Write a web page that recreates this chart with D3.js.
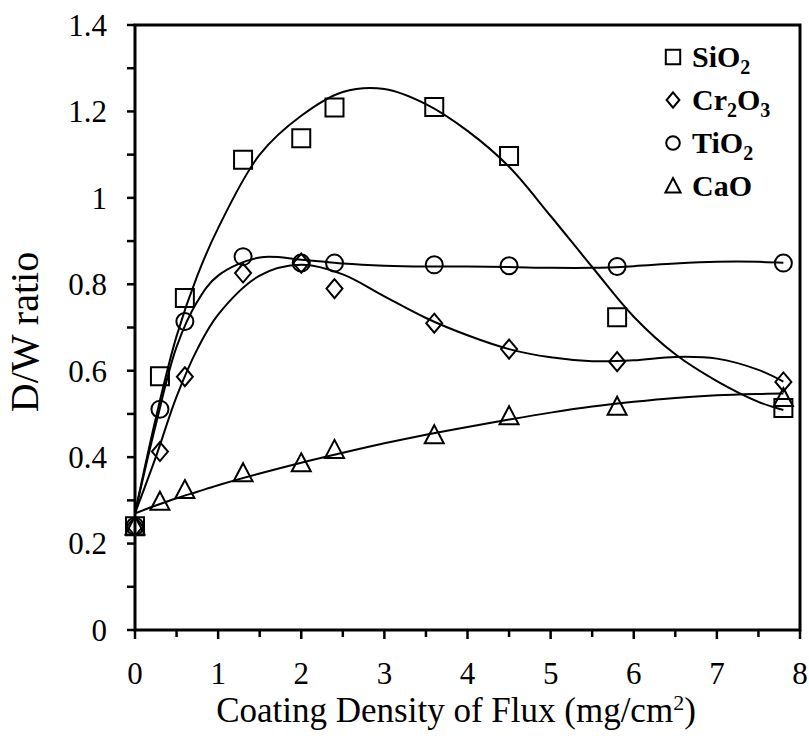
<!DOCTYPE html>
<html>
<head>
<meta charset="utf-8">
<script src="https://cdn.jsdelivr.net/npm/d3@7"></script>
<style>
  body { margin: 0; background: #fff; }
  text { font-family: "Liberation Serif", "Times New Roman", serif; fill: #000; }
</style>
</head>
<body>
<svg id="chart" width="809" height="740"></svg>
<script>
// Measured points (coating density, D/W ratio)
const density = [0, 0.3, 0.6, 1.3, 2.0, 2.4, 3.6, 4.5, 5.8, 7.8];
const sio2 = [0.24, 0.587, 0.768, 1.088, 1.138, 1.209, 1.21, 1.097, 0.724, 0.514];
const cr2o3 = [0.24, 0.413, 0.586, 0.826, 0.849, 0.79, 0.71, 0.65, 0.621, 0.574];
const tio2 = [0.24, 0.511, 0.714, 0.864, 0.849, 0.849, 0.845, 0.843, 0.841, 0.849];
const cao = [0.24, 0.297, 0.324, 0.363, 0.386, 0.417, 0.451, 0.495, 0.517, 0.537];

// Fitted trend curves at these x positions
const fitX = [0, 0.25, 0.5, 0.75, 1, 1.5, 2, 2.5, 3, 3.5, 4, 4.5, 5, 5.5, 6, 6.5, 7, 7.5, 7.8];
const sio2Fit = [0.27, 0.49, 0.68, 0.82, 0.93, 1.1, 1.19, 1.245, 1.252, 1.217, 1.155, 1.072, 0.958, 0.84, 0.725, 0.638, 0.576, 0.528, 0.509];
const cr2o3Fit = [0.27, 0.4, 0.54, 0.65, 0.73, 0.82, 0.845, 0.823, 0.772, 0.722, 0.682, 0.65, 0.631, 0.622, 0.624, 0.632, 0.628, 0.602, 0.575];
const tio2Fit = [0.27, 0.475, 0.655, 0.76, 0.82, 0.862, 0.857, 0.848, 0.843, 0.841, 0.841, 0.84, 0.838, 0.838, 0.842, 0.848, 0.852, 0.852, 0.85];
const caoFit = [0.27, 0.288, 0.305, 0.32, 0.335, 0.362, 0.387, 0.41, 0.432, 0.452, 0.47, 0.487, 0.503, 0.517, 0.528, 0.537, 0.543, 0.546, 0.547];

const xTicks = [0, 1, 2, 3, 4, 5, 6, 7, 8];
const yTicks = [0, 0.2, 0.4, 0.6, 0.8, 1, 1.2, 1.4];

const series = [
  { parts: ["SiO", "2"], shape: "square", y: sio2, fit: sio2Fit },
  { parts: ["Cr", "2", "O", "3"], shape: "diamond", y: cr2o3, fit: cr2o3Fit },
  { parts: ["TiO", "2"], shape: "circle", y: tio2, fit: tio2Fit },
  { parts: ["CaO"], shape: "triangle", y: cao, fit: caoFit }
];

const margin = { left: 135, right: 9, top: 25, bottom: 110 };
const width = 809, height = 740;

const svg = d3.select("#chart");

const x = d3.scaleLinear().domain([0, 8]).range([margin.left, width - margin.right]);
const y = d3.scaleLinear().domain([0, 1.4]).range([height - margin.bottom, margin.top]);

// marker path builder, s = scale factor
function shape(type, s = 1) {
  const p = d3.path();
  if (type === "square") {
    const h = 9 * s;
    p.rect(-h, -h, 2 * h, 2 * h);
  } else if (type === "diamond") {
    const w = 8 * s, h = 9.5 * s;
    p.moveTo(0, -h); p.lineTo(w, 0); p.lineTo(0, h); p.lineTo(-w, 0); p.closePath();
  } else if (type === "circle") {
    const r = 8.5 * s;
    p.moveTo(r, 0); p.arc(0, 0, r, 0, 2 * Math.PI);
  } else {
    const w = 9.5 * s, h = 9 * s;
    p.moveTo(0, -h * 1.1); p.lineTo(w, h * 0.9); p.lineTo(-w, h * 0.9); p.closePath();
  }
  return p.toString();
}

// minor + major ticks
const ax = svg.append("g").attr("stroke", "#000");

ax.selectAll(".ytick")
  .data(d3.range(0, 15).map(i => i / 10))
  .join("line")
  .attr("x1", margin.left - 8)
  .attr("x2", margin.left)
  .attr("y1", d => y(d))
  .attr("y2", d => y(d))
  .attr("stroke-width", 2.5);

ax.selectAll(".xtick")
  .data(d3.range(0, 17).map(i => i / 2))
  .join("line")
  .attr("x1", d => x(d))
  .attr("x2", d => x(d))
  .attr("y1", y(0))
  .attr("y2", (d, i) => y(0) + (i % 2 ? 7 : 9))
  .attr("stroke-width", 2.5);

// frame
svg.append("rect")
  .attr("x", x(0))
  .attr("y", y(1.4))
  .attr("width", x(8) - x(0))
  .attr("height", y(0) - y(1.4))
  .attr("fill", "none")
  .attr("stroke", "#000")
  .attr("stroke-width", 3);

// tick labels
svg.append("g").selectAll("text")
  .data(yTicks)
  .join("text")
  .attr("x", 107)
  .attr("y", d => y(d))
  .attr("dy", "0.35em")
  .attr("text-anchor", "end")
  .attr("font-size", 31)
  .text(d => d3.format("")(d));

svg.append("g").selectAll("text")
  .data(xTicks)
  .join("text")
  .attr("x", d => x(d))
  .attr("y", 684)
  .attr("text-anchor", "middle")
  .attr("font-size", 31)
  .text(d => d);

// axis titles
const xt = svg.append("text")
  .attr("x", 456)
  .attr("y", 722)
  .attr("text-anchor", "middle")
  .attr("font-size", 35);
xt.append("tspan").text("Coating Density of Flux (mg/cm");
xt.append("tspan").attr("font-size", 22).attr("dy", -12).text("2");
xt.append("tspan").attr("dy", 12).text(")");

svg.append("text")
  .attr("transform", "translate(38,332) rotate(-90)")
  .attr("text-anchor", "middle")
  .attr("font-size", 40)
  .text("D/W ratio");

// fitted curves
const line = d3.line()
  .x(d => x(d[0]))
  .y(d => y(d[1]))
  .curve(d3.curveCatmullRom.alpha(0.5));

svg.append("g")
  .selectAll("path")
  .data(series)
  .join("path")
  .attr("d", s => line(fitX.map((v, i) => [v, s.fit[i]])))
  .attr("fill", "none")
  .attr("stroke", "#000")
  .attr("stroke-width", 2);

// markers
series.forEach(s => {
  svg.append("g")
    .selectAll("path")
    .data(density.map((d, i) => [d, s.y[i]]))
    .join("path")
    .attr("transform", d => `translate(${x(d[0])},${y(d[1])})`)
    .attr("d", shape(s.shape))
    .attr("fill", "none")
    .attr("stroke", "#000")
    .attr("stroke-width", 2);
});

// legend
const legend = svg.append("g");
const rowY = [67, 110, 153, 196];

series.forEach((s, i) => {
  const g = legend.append("g");
  g.append("path")
    .attr("transform", `translate(673,${rowY[i] - 10})`)
    .attr("d", shape(s.shape, 0.8))
    .attr("fill", "none")
    .attr("stroke", "#000")
    .attr("stroke-width", 2);
  const t = g.append("text")
    .attr("x", 692)
    .attr("y", rowY[i])
    .attr("font-size", 30)
    .attr("font-weight", "bold");
  // digits are subscripts
  s.parts.forEach((p, k) => {
    const isSub = /^\d$/.test(p);
    t.append("tspan")
      .attr("font-size", isSub ? 20 : 30)
      .attr("dy", isSub ? 7 : (k > 0 ? -7 : 0))
      .text(p);
  });
});
</script>
</body>
</html>
